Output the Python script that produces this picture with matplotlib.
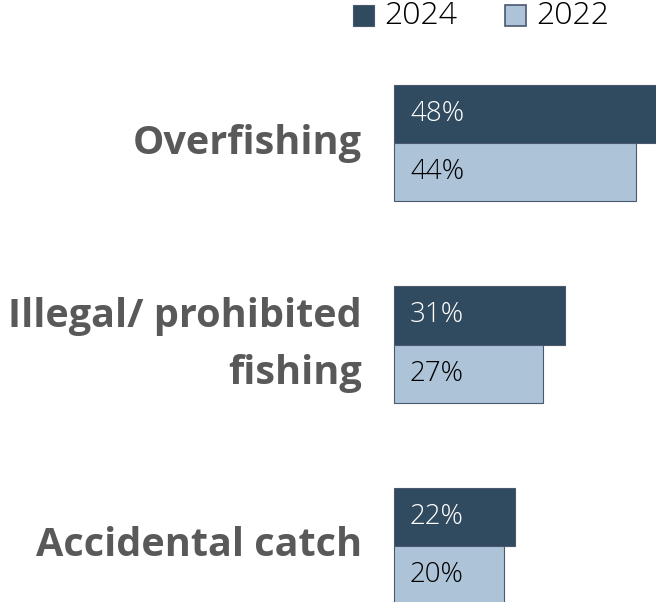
import matplotlib
matplotlib.use("Agg")
import matplotlib.pyplot as plt
from matplotlib.patches import Rectangle

categories = ["Overfishing", "Illegal/ prohibited\nfishing", "Accidental catch"]
series_names = ["2024", "2022"]
values_2024 = [48, 31, 22]
values_2022 = [44, 27, 20]

c_2024 = "#304a60"
c_2022 = "#adc4d8"
edge = "#4a5870"
label_col = "#595959"

W, H = 656, 602
fig = plt.figure(figsize=(W / 100, H / 100), dpi=100)
ax = fig.add_axes([394 / W, 0, 1 - 394 / W, 1])
ax.set_xlim(0, (W - 394) / 5.5)
ax.set_ylim((H - 143) / 201.5, -143 / 201.5)
ax.axis("off")

h = 0.29
ys = list(range(len(categories)))
ax.barh([y - h / 2 for y in ys], values_2024, height=h, color=c_2024,
        edgecolor=edge, linewidth=0.8, clip_on=False)
ax.barh([y + h / 2 for y in ys], values_2022, height=h, color=c_2022,
        edgecolor=edge, linewidth=0.8, clip_on=False)

font = "Open Sans"
for y, v1, v2, cat in zip(ys, values_2024, values_2022, categories):
    ax.text(2.9, y - h / 2, f"{v1}%", color="white", fontsize=20,
            family=font, fontweight="light", va="center", ha="left")
    ax.text(2.9, y + h / 2, f"{v2}%", color="black", fontsize=20,
            family=font, fontweight="light", va="center", ha="left")
    ax.text(-5.8, y, cat, color=label_col, fontsize=28.5, fontweight="bold",
            family=font, va="center", ha="right", linespacing=1.6)

# legend
fig.patches.append(Rectangle((353 / W, 1 - 26 / H), 21 / W, 21 / H,
                             transform=fig.transFigure, facecolor=c_2024,
                             edgecolor=edge, linewidth=0.8))
fig.text(384 / W, 1 - 16 / H, series_names[0], fontsize=23, family=font,
         fontweight="light", va="center", ha="left", color="black")
fig.patches.append(Rectangle((505 / W, 1 - 26 / H), 21 / W, 21 / H,
                             transform=fig.transFigure, facecolor=c_2022,
                             edgecolor=edge, linewidth=1.2))
fig.text(536 / W, 1 - 16 / H, series_names[1], fontsize=23, family=font,
         fontweight="light", va="center", ha="left", color="black")

fig.savefig("out.png", dpi=100)
